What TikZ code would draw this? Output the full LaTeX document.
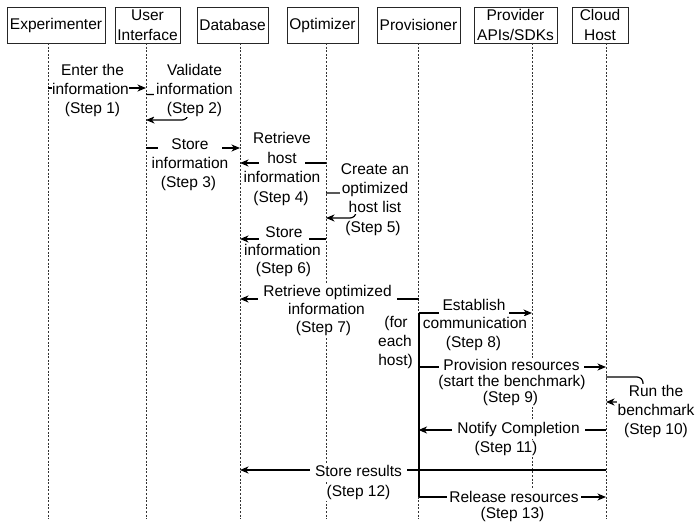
\documentclass[tikz,border=0pt]{standalone}
\usepackage{fontspec}
\setmainfont{Liberation Sans}
\usetikzlibrary{arrows.meta}
\begin{document}
\begin{tikzpicture}[x=1pt,y=-1pt,
  font=\fontsize{15.5}{19}\selectfont,
  hdr/.style={draw=black!85, line width=0.9pt, inner sep=0pt, minimum height=36pt, align=center, font=\fontsize{15.5}{20}\selectfont},
  life/.style={black!80, line width=0.7pt, dash pattern=on 2pt off 1.6pt},
  msg/.style={line width=1.2pt, -{Stealth[length=8.5pt,width=7pt,inset=2.5pt]}},
  selfmsg/.style={msg, rounded corners=6pt},
  txt/.style={anchor=base, fill=white, inner xsep=1pt, inner ysep=1pt, text height=11.5pt, text depth=3.5pt},
  lbl/.style={txt, inner ysep=1.5pt},
  blk/.style={fill=white, align=center, inner xsep=1pt, inner ysep=1pt},
  act/.style={line width=2pt}
]
\useasboundingbox (0,0) rectangle (695,527);

% participants
\node[hdr, minimum width=98pt] (E) at (56,25) {Experimenter};
\node[hdr, minimum width=65pt] (U) at (147.5,25) {User\\Interface};
\node[hdr, minimum width=71pt] (D) at (232.5,25) {Database};
\node[hdr, minimum width=71pt] (O) at (322.5,25) {Optimizer};
\node[hdr, minimum width=83pt] (P) at (418.5,25) {Provisioner};
\node[hdr, minimum width=83pt] (A) at (515.5,25) {Provider\\APIs/SDKs};
\node[hdr, minimum width=56pt] (C) at (600,25) {Cloud\\Host};

% lifeline tops
\coordinate (lE) at (48,43);
\coordinate (lU) at (146,43);
\coordinate (lD) at (240,43);
\coordinate (lO) at (326,43);
\coordinate (lP) at (418.5,43);
\coordinate (lA) at (532,43);
\coordinate (lC) at (606,43);

% lifelines
\foreach \n in {lE,lU,lD,lO,lP,lA,lC}
  \draw[life] (\n) -- (\n |- 0,519);

% messages
\draw[msg] (lE |- 0,88) -- (lU |- 0,88);
\draw[selfmsg] (lU |- 0,94.5) -- (188,94.5) -- (188,120) -- (lU |- 0,120);
\draw[msg] (lU |- 0,148) -- (lD |- 0,148);
\draw[msg] (lO |- 0,163) -- (lD |- 0,163);
\draw[selfmsg] (lO |- 0,193) -- (356,193) -- (356,218) -- (lO |- 0,218);
\draw[msg] (lO |- 0,239) -- (lD |- 0,239);
\draw[msg] (lP |- 0,299) -- (lD |- 0,299);
\draw[msg] (lP |- 0,313) -- (lA |- 0,313);
\draw[msg] (lP |- 0,367) -- (lC |- 0,367);
\draw[selfmsg] (lC |- 0,377) -- (643,377) -- (643,402) -- (lC |- 0,402);
\draw[msg] (lC |- 0,430) -- (lP |- 0,430);
\draw[msg] (lC |- 0,470) -- (lD |- 0,470);
\draw[msg] (lP |- 0,497) -- (lC |- 0,497);

% labels
\node[txt] (s1a) at (92.5,75) {Enter the};
\node[lbl, inner xsep=0.5pt] (s1b) at (90.5,94) {information};
\node[txt] (s1c) at (92.5,113) {(Step 1)};

\node[blk, inner xsep=2pt] (s2) at (194.5,90) {Validate\\information\\(Step 2)};

\node[lbl, inner xsep=13pt] (s3a) at (190,149.5) {Store};
\node[txt] (s3b) at (190,168.5) {information};
\node[txt] (s3c) at (188.5,187.5) {(Step 3)};

\node[txt] (s4a) at (282,143.5) {Retrieve};
\node[lbl, inner xsep=8pt] (s4b) at (282,163) {host};
\node[txt] (s4c) at (282,182.5) {information};
\node[txt] (s4d) at (281,202) {(Step 4)};

\node[blk, inner ysep=2pt] (s5) at (375,188) {Create an\\optimized\\host list};
\node[txt] (s5d) at (373,232.5) {(Step 5)};

\node[lbl, inner xsep=6.5pt] (s6a) at (284,237) {Store};
\node[txt] (s6b) at (282.5,255) {information};
\node[txt] (s6c) at (283.5,273) {(Step 6)};

\node[lbl, inner xsep=5pt] (s7a) at (327.5,296) {Retrieve optimized};
\node[txt] (s7b) at (326.5,314) {information};
\node[txt] (s7c) at (323.5,332) {(Step 7)};

\node[txt] (fa) at (396,327) {(for};
\node[txt] (fb) at (395,346) {each};
\node[txt] (fc) at (395.5,365) {host)};

\node[lbl, inner xsep=3.5pt] (s8a) at (474,310) {Establish};
\node[txt] (s8b) at (475,328) {communication};
\node[txt] (s8c) at (473.5,347) {(Step 8)};

\node[lbl, inner xsep=4pt] (s9a) at (511.5,370.5) {Provision resources};
\node[txt] (s9b) at (512,386.5) {(start the benchmark)};
\node[txt] (s9c) at (510.5,402) {(Step 9)};

\node[blk, inner xsep=0.5pt] (s10) at (656,411.5) {Run the\\benchmark\\(Step 10)};

\node[lbl, inner xsep=5pt] (s11a) at (518.5,433) {Notify Completion};
\node[txt] (s11b) at (506,452) {(Step 11)};

\node[lbl, inner xsep=5pt] (s12a) at (358.5,476) {Store results};
\node[txt] (s12b) at (358.5,496) {(Step 12)};

\node[lbl, inner xsep=2pt] (s13a) at (514,502) {Release resources};
\node[txt] (s13b) at (512.5,518) {(Step 13)};

% activation bar of the loop
\draw[act] (lP |- 0,313) -- (lP |- 0,497);
\end{tikzpicture}
\end{document}
